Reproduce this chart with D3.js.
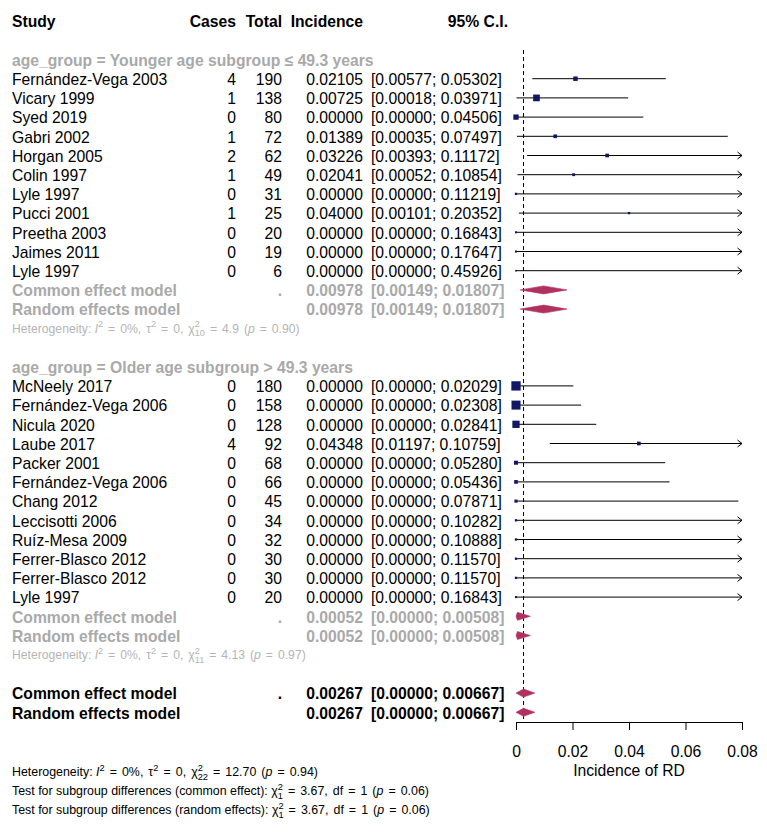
<!DOCTYPE html>
<html lang="en">
	<head>
		<meta charset="utf-8">
		<title>Forest plot: incidence of RD</title>
		<script type="text/javascript" src="https://cdn.jsdelivr.net/npm/d3@7"></script>
		<style type="text/css">
			body { margin: 0; background: #fff; }
			text { font-family: "Liberation Sans", Arial, sans-serif; }
		</style>
	</head>
	<body>
		<script type="text/javascript">

			var w = 767;
			var h = 837;

			// group 1: younger age subgroup
			var studies1 = ["Fernández-Vega 2003", "Vicary 1999", "Syed 2019", "Gabri 2002", "Horgan 2005", "Colin 1997",
							"Lyle 1997", "Pucci 2001", "Preetha 2003", "Jaimes 2011", "Lyle 1997"];
			var cases1 = [4, 1, 0, 1, 2, 1, 0, 1, 0, 0, 0];
			var total1 = [190, 138, 80, 72, 62, 49, 31, 25, 20, 19, 6];
			var inc1 = [0.02105, 0.00725, 0, 0.01389, 0.03226, 0.02041, 0, 0.04000, 0, 0, 0];
			var lower1 = [0.00577, 0.00018, 0, 0.00035, 0.00393, 0.00052, 0, 0.00101, 0, 0, 0];
			var upper1 = [0.05302, 0.03971, 0.04506, 0.07497, 0.11172, 0.10854, 0.11219, 0.20352, 0.16843, 0.17647, 0.45926];
			var weight1 = [3.7, 8.3, 5.2, 2.5, 2.5, 1.5, 1.0, 1.0, 0.8, 0.8, 0.5];

			// group 2: older age subgroup
			var studies2 = ["McNeely 2017", "Fernández-Vega 2006", "Nicula 2020", "Laube 2017", "Packer 2001", "Fernández-Vega 2006",
							"Chang 2012", "Leccisotti 2006", "Ruíz-Mesa 2009", "Ferrer-Blasco 2012", "Ferrer-Blasco 2012", "Lyle 1997"];
			var cases2 = [0, 0, 0, 4, 0, 0, 0, 0, 0, 0, 0, 0];
			var total2 = [180, 158, 128, 92, 68, 66, 45, 34, 32, 30, 30, 20];
			var inc2 = [0, 0, 0, 0.04348, 0, 0, 0, 0, 0, 0, 0, 0];
			var lower2 = [0, 0, 0, 0.01197, 0, 0, 0, 0, 0, 0, 0, 0];
			var upper2 = [0.02029, 0.02308, 0.02841, 0.10759, 0.05280, 0.05436, 0.07871, 0.10282, 0.10888, 0.11570, 0.11570, 0.16843];
			var weight2 = [16, 15, 9.8, 2.5, 3.0, 2.5, 1.8, 1.0, 1.0, 1.0, 1.0, 0.8];

			// pooled estimates: group 1, group 2, overall
			var poolEst = [0.00978, 0.00052, 0.00267];
			var poolLow = [0.00149, 0.00000, 0.00000];
			var poolUp = [0.01807, 0.00508, 0.00667];

			var groupLabels = ["age_group = Younger age subgroup \u2264 49.3 years", "age_group = Older age subgroup > 49.3 years"];
			var xTicks = [0, 0.02, 0.04, 0.06, 0.08];

			var fs = 15.7;
			var grey = "#a9a9a9";
			var navy = "#0f1766";
			var maroon = "#b03060";
			var fmt = d3.format(".5f");

			var xScale = d3.scaleLinear().domain([0, 0.08]).range([516, 742]);
			// row index -> vertical centre of the marks
			var yScale = d3.scaleLinear().domain([0, 35]).range([40.3, 712.3]);
			var sScale = d3.scaleSqrt().domain([0, 16]).range([0, 9.3]);

			var svg = d3.select("body")
						.append("svg")
						.attr("width", w)
						.attr("height", h);

			// build the row list
			var rows = [];
			function addStudies(st, ca, to, inc, lo, up, wt, start) {
				st.forEach(function(s, i) {
					rows.push({ row: start + i, study: s, cases: ca[i], total: to[i], est: inc[i], lo: lo[i], up: up[i], wt: wt[i] });
				});
			}
			addStudies(studies1, cases1, total1, inc1, lower1, upper1, weight1, 2);
			addStudies(studies2, cases2, total2, inc2, lower2, upper2, weight2, 18);

			var pooled = [
				{ row: 13, label: "Common effect model", dot: ".", k: 0, col: grey },
				{ row: 14, label: "Random effects model", dot: "", k: 0, col: grey },
				{ row: 30, label: "Common effect model", dot: ".", k: 1, col: grey },
				{ row: 31, label: "Random effects model", dot: "", k: 1, col: grey },
				{ row: 34, label: "Common effect model", dot: ".", k: 2, col: "#000" },
				{ row: 35, label: "Random effects model", dot: "", k: 2, col: "#000" }
			];

			function base(r) { return yScale(r) + 6.3; }

			// header
			var head = svg.append("g").style("font-weight", "bold").style("font-size", fs + "px");
			head.append("text").attr("x", 12).attr("y", base(-1)).text("Study");
			head.append("text").attr("x", 236).attr("y", base(-1)).attr("text-anchor", "end").text("Cases");
			head.append("text").attr("x", 282).attr("y", base(-1)).attr("text-anchor", "end").text("Total");
			head.append("text").attr("x", 363).attr("y", base(-1)).attr("text-anchor", "end").text("Incidence");
			head.append("text").attr("x", 508).attr("y", base(-1)).attr("text-anchor", "end").text("95% C.I.");

			// subgroup titles
			svg.selectAll(".glab")
			   .data(groupLabels)
			   .enter()
			   .append("text")
			   .attr("x", 12)
			   .attr("y", function(d, i) { return base(i == 0 ? 1 : 17); })
			   .style("font-size", fs + "px")
			   .style("font-weight", "bold")
			   .attr("fill", grey)
			   .text(function(d) { return d; });

			// study text columns
			var txt = svg.append("g").style("font-size", fs + "px");
			txt.selectAll(".st").data(rows).enter().append("text")
			   .attr("x", 12).attr("y", function(d) { return base(d.row); })
			   .text(function(d) { return d.study; });
			txt.selectAll(".ca").data(rows).enter().append("text")
			   .attr("x", 236).attr("y", function(d) { return base(d.row); }).attr("text-anchor", "end")
			   .text(function(d) { return d.cases; });
			txt.selectAll(".to").data(rows).enter().append("text")
			   .attr("x", 282).attr("y", function(d) { return base(d.row); }).attr("text-anchor", "end")
			   .text(function(d) { return d.total; });
			txt.selectAll(".in").data(rows).enter().append("text")
			   .attr("x", 363).attr("y", function(d) { return base(d.row); }).attr("text-anchor", "end")
			   .text(function(d) { return fmt(d.est); });
			txt.selectAll(".ci").data(rows).enter().append("text")
			   .attr("x", 371).attr("y", function(d) { return base(d.row); })
			   .text(function(d) { return "[" + fmt(d.lo) + "; " + fmt(d.up) + "]"; });

			// pooled rows text
			var ptx = svg.append("g").style("font-size", fs + "px").style("font-weight", "bold");
			ptx.selectAll(".pl").data(pooled).enter().append("text")
			   .attr("x", 12).attr("y", function(d) { return base(d.row); }).attr("fill", function(d) { return d.col; })
			   .text(function(d) { return d.label; });
			ptx.selectAll(".pd").data(pooled).enter().append("text")
			   .attr("x", 282).attr("y", function(d) { return base(d.row); }).attr("text-anchor", "end")
			   .attr("fill", function(d) { return d.col; })
			   .text(function(d) { return d.dot; });
			ptx.selectAll(".pe").data(pooled).enter().append("text")
			   .attr("x", 363).attr("y", function(d) { return base(d.row); }).attr("text-anchor", "end")
			   .attr("fill", function(d) { return d.col; })
			   .text(function(d) { return fmt(poolEst[d.k]); });
			ptx.selectAll(".pc").data(pooled).enter().append("text")
			   .attr("x", 371).attr("y", function(d) { return base(d.row); })
			   .attr("fill", function(d) { return d.col; })
			   .text(function(d) { return "[" + fmt(poolLow[d.k]) + "; " + fmt(poolUp[d.k]) + "]"; });

			// text with super/subscripts, math part gets wider spaces
			function rich(g, x, y, parts, size, col) {
				var t = g.append("text").attr("x", x).attr("y", y).style("font-size", size + "px").attr("fill", col);
				var off = 0;
				parts.forEach(function(p, i) {
					var sp = t.append("tspan").text(p[0]);
					var target = 0, s = size;
					if (p[1] == "sup") { target = -size * 0.42; s = size * 0.75; }
					if (p[1] == "sub") { target = size * 0.3; s = size * 0.75; }
					if (p[1] == "i") sp.style("font-style", "italic");
					if (i > 0) sp.style("word-spacing", "1.6px");
					sp.attr("dy", target - off).style("font-size", s + "px");
					if (p[2]) sp.attr("dx", p[2]);
					off = target;
				});
			}
			function back(size) { return -size * 0.75 * 0.556; }

			var hs = 12.2;
			rich(svg, 12, yScale(15) + 4.3, [["Heterogeneity: "], ["I", "i"], ["2", "sup"], [" = 0%, \u03c4"], ["2", "sup"], [" = 0, \u03c7"],
				["2", "sup"], ["10", "sub", back(hs)], [" = 4.9 ("], ["p", "i"], [" = 0.90)"]], hs, "#b5b5b5");
			rich(svg, 12, yScale(32) + 4.3, [["Heterogeneity: "], ["I", "i"], ["2", "sup"], [" = 0%, \u03c4"], ["2", "sup"], [" = 0, \u03c7"],
				["2", "sup"], ["11", "sub", back(hs)], [" = 4.13 ("], ["p", "i"], [" = 0.97)"]], hs, "#b5b5b5");

			var bs = 12.4;
			rich(svg, 12, 776, [["Heterogeneity: "], ["I", "i"], ["2", "sup"], [" = 0%, \u03c4"], ["2", "sup"], [" = 0, \u03c7"],
				["2", "sup"], ["22", "sub", back(bs)], [" = 12.70 ("], ["p", "i"], [" = 0.94)"]], bs, "#000");
			rich(svg, 12, 795, [["Test for subgroup differences (common effect): \u03c7"], ["2", "sup"], ["1", "sub", back(bs)],
				[" = 3.67, df = 1 ("], ["p", "i"], [" = 0.06)"]], bs, "#000");
			rich(svg, 12, 814, [["Test for subgroup differences (random effects): \u03c7"], ["2", "sup"], ["1", "sub", back(bs)],
				[" = 3.67, df = 1 ("], ["p", "i"], [" = 0.06)"]], bs, "#000");

			// reference line at the overall estimate
			svg.append("line")
			   .attr("x1", xScale(poolEst[2])).attr("x2", xScale(poolEst[2]))
			   .attr("y1", 50).attr("y2", 722)
			   .attr("stroke", "#000")
			   .attr("stroke-dasharray", "4,3");

			// confidence interval lines (clipped at the axis end)
			var xMax = xTicks[xTicks.length - 1];
			svg.selectAll(".cil")
			   .data(rows)
			   .enter()
			   .append("line")
			   .attr("x1", function(d) { return xScale(d.lo); })
			   .attr("x2", function(d) { return xScale(Math.min(d.up, xMax)); })
			   .attr("y1", function(d) { return yScale(d.row); })
			   .attr("y2", function(d) { return yScale(d.row); })
			   .attr("stroke", "#000")
			   .attr("stroke-width", 1);

			svg.selectAll(".arr")
			   .data(rows.filter(function(d) { return d.up > xMax; }))
			   .enter()
			   .append("path")
			   .attr("d", function(d) {
			   		var x = xScale(xMax), y = yScale(d.row);
			   		return "M" + (x - 4.5) + "," + (y - 3.5) + "L" + x + "," + y + "L" + (x - 4.5) + "," + (y + 3.5);
			   })
			   .attr("fill", "none")
			   .attr("stroke", "#000");

			// squares sized by weight
			svg.selectAll(".sq")
			   .data(rows)
			   .enter()
			   .append("rect")
			   .attr("x", function(d) { return xScale(d.est) - sScale(d.wt) / 2; })
			   .attr("y", function(d) { return yScale(d.row) - sScale(d.wt) / 2; })
			   .attr("width", function(d) { return sScale(d.wt); })
			   .attr("height", function(d) { return sScale(d.wt); })
			   .attr("fill", navy);

			// pooled diamonds
			svg.selectAll(".dia")
			   .data(pooled)
			   .enter()
			   .append("path")
			   .attr("d", function(d) {
			   		var y = yScale(d.row);
			   		return "M" + xScale(poolLow[d.k]) + "," + y +
			   			"L" + xScale(poolEst[d.k]) + "," + (y - 4) +
			   			"L" + xScale(poolUp[d.k]) + "," + y +
			   			"L" + xScale(poolEst[d.k]) + "," + (y + 4) + "Z";
			   })
			   .attr("fill", maroon)
			   .attr("stroke", maroon)
			   .attr("stroke-width", 0.6);

			// x axis
			var xAxis = d3.axisBottom()
						  .scale(xScale)
						  .tickValues(xTicks)
						  .tickSize(8)
						  .tickSizeOuter(8)
						  .tickPadding(16)
						  .tickFormat(function(d) { return d === 0 ? "0" : d3.format(".2f")(d); });

			var ax = svg.append("g")
						.attr("class", "axis")
						.attr("transform", "translate(0,722)")
						.call(xAxis);
			ax.selectAll("text").style("font-size", fs + "px").style("font-family", "Liberation Sans, Arial, sans-serif").attr("fill", "#000");
			ax.selectAll("line, path").attr("stroke", "#000");

			svg.append("text")
			   .attr("x", (xScale(0) + xScale(xMax)) / 2)
			   .attr("y", 776)
			   .attr("text-anchor", "middle")
			   .style("font-size", fs + "px")
			   .text("Incidence of RD");

		</script>
	</body>
</html>
